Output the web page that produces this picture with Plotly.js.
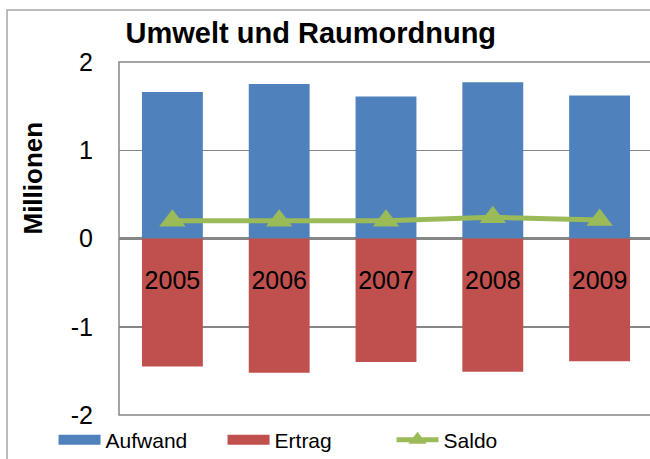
<!DOCTYPE html>
<html>
<head>
<meta charset="utf-8">
<script src="https://cdn.plot.ly/plotly-3.0.1.min.js"></script>
<style>
  html, body { margin: 0; padding: 0; overflow: hidden; background: #fff; }
</style>
</head>
<body>
<div id="plotDiv"></div>
<script>
// Jahre und Werte (Millionen)
var jahre = ['2005', '2006', '2007', '2008', '2009'];
var aufwand = [1.66, 1.75, 1.61, 1.77, 1.62];
var ertrag = [-1.45, -1.52, -1.40, -1.51, -1.39];
var saldo = [0.20, 0.20, 0.20, 0.24, 0.21];
// Achsenbeschriftung wie im Original (mit Bindestrich)
var yTicks = [-2, -1, 0, 1, 2];
var yTickText = ['-2', '-1', '0', '1', '2'];

var farbeAufwand = '#4F81BD';
var farbeErtrag = '#C0504D';
var farbeSaldo = '#9BBB59';

var trace1 = {
  x: jahre,
  y: aufwand,
  type: 'bar',
  name: 'Aufwand',
  legendgroup: 'a',
  showlegend: false,
  marker: { color: farbeAufwand }
};

var trace2 = {
  x: jahre,
  y: ertrag,
  type: 'bar',
  name: 'Ertrag',
  legendgroup: 'e',
  showlegend: false,
  marker: { color: farbeErtrag }
};

var trace3 = {
  x: jahre,
  y: saldo,
  type: 'scatter',
  mode: 'lines+markers',
  name: 'Saldo',
  line: { color: farbeSaldo, width: 5 },
  marker: { symbol: 'triangle-up', size: 23, color: farbeSaldo }
};

// breite Legendenfelder wie in Excel (nur Legende, keine Daten)
var leg1 = { x: [null], y: [null], type: 'scatter', mode: 'lines', name: 'Aufwand',
  legendgroup: 'a', line: { color: farbeAufwand, width: 14 } };
var leg2 = { x: [null], y: [null], type: 'scatter', mode: 'lines', name: 'Ertrag',
  legendgroup: 'e', line: { color: farbeErtrag, width: 14 } };

var data = [trace1, trace2, leg1, leg2, trace3];

var layout = {
  width: 653,
  height: 459,
  margin: { l: 119, r: 0, t: 62, b: 44, autoexpand: false },
  paper_bgcolor: '#fff',
  plot_bgcolor: '#fff',
  font: { family: 'Liberation Sans, Arial, sans-serif', size: 25, color: '#000' },
  barmode: 'relative',
  bargap: 0.43,
  title: {
    text: 'Umwelt und Raumordnung',
    font: { size: 29, weight: 'bold', color: '#000' },
    x: 0.476, xref: 'container', xanchor: 'center',
    y: 0.928, yref: 'container', yanchor: 'middle'
  },
  showlegend: true,
  legend: {
    orientation: 'h',
    xref: 'container', yref: 'container',
    x: 0.082, xanchor: 'left',
    y: 0.041, yanchor: 'middle',
    bgcolor: 'rgba(0,0,0,0)',
    font: { size: 21 },
    itemwidth: 42,
    entrywidth: 112,
    traceorder: 'normal'
  },
  xaxis: {
    anchor: 'free',
    position: 0.5,
    showline: false,
    showgrid: false,
    zeroline: false,
    ticks: '',
    ticklabelstandoff: 24,
    tickfont: { size: 25 },
    fixedrange: true
  },
  yaxis: {
    range: [-2, 2],
    tickvals: yTicks,
    ticktext: yTickText,
    showline: false,
    ticks: '',
    ticklabelstandoff: 25,
    showgrid: true,
    gridcolor: '#868686',
    gridwidth: 1.5,
    zeroline: true,
    zerolinecolor: '#868686',
    zerolinewidth: 2.5,
    tickfont: { size: 25 },
    fixedrange: true
  },
  annotations: [{
    text: 'Millionen',
    textangle: -90,
    xref: 'paper', yref: 'paper',
    x: -0.161, y: 0.67,
    xanchor: 'center', yanchor: 'middle',
    showarrow: false,
    font: { size: 26, weight: 'bold', color: '#000' }
  }],
  shapes: [
    { type: 'rect', xref: 'paper', yref: 'paper', x0: 0, x1: 1, y0: 0, y1: 1,
      line: { color: '#868686', width: 1.5 }, layer: 'above' },
    { type: 'rect', xref: 'paper', yref: 'paper', x0: -0.2097, x1: 1.1, y0: -0.3, y1: 1.147,
      line: { color: '#A6A6A6', width: 1.5 } }
  ]
};

Plotly.newPlot('plotDiv', data, layout, { displayModeBar: false, staticPlot: true });
</script>
</body>
</html>
